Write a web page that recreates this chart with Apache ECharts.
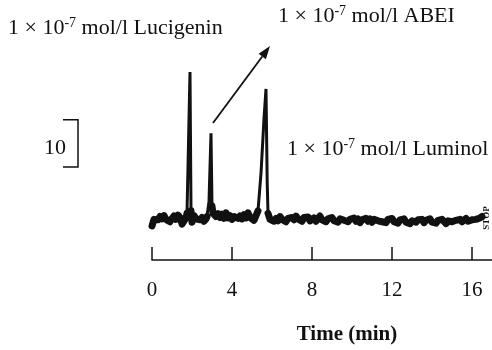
<!DOCTYPE html>
<html>
<head>
<meta charset="utf-8">
<script src="https://cdn.jsdelivr.net/npm/echarts@6/dist/echarts.min.js"></script>
<style>
  html, body { margin: 0; padding: 0; background: #fff; }
  #chart { width: 492px; height: 350px; }
</style>
</head>
<body>
<div id="chart"></div>
<script>
// recorder trace, time in min, signal in arbitrary units
var times = [
  0, 0.1, 0.2, 0.3, 0.4, 0.5, 0.6, 0.7, 0.8, 0.9,
  1.0, 1.1, 1.2, 1.3, 1.4, 1.5, 1.6, 1.7, 1.75, 1.9, 1.95, 2.0,
  2.1, 2.2, 2.3, 2.4, 2.5, 2.6, 2.7, 2.75, 2.85, 2.95, 3.0, 3.05,
  3.1, 3.2, 3.3, 3.4, 3.5, 3.6, 3.7, 3.8, 3.9,
  4.0, 4.1, 4.2, 4.3, 4.4, 4.5, 4.6, 4.7, 4.8, 4.9,
  5.0, 5.1, 5.2, 5.3, 5.45, 5.6, 5.7, 5.76, 5.8, 5.9,
  6.0, 6.1, 6.2, 6.3, 6.4, 6.5, 6.6, 6.7, 6.8, 6.9,
  7.0, 7.1, 7.2, 7.3, 7.4, 7.5, 7.6, 7.7, 7.8, 7.9,
  8.0, 8.1, 8.2, 8.3, 8.4, 8.5, 8.6, 8.7, 8.8, 8.9,
  9.0, 9.1, 9.2, 9.3, 9.4, 9.5, 9.6, 9.7, 9.8, 9.9,
  10.0, 10.1, 10.2, 10.3, 10.4, 10.5, 10.6, 10.7, 10.8, 10.9,
  11.0, 11.1, 11.2, 11.3, 11.4, 11.5, 11.6, 11.7, 11.8, 11.9,
  12.0, 12.1, 12.2, 12.3, 12.4, 12.5, 12.6, 12.7, 12.8, 12.9,
  13.0, 13.1, 13.2, 13.3, 13.4, 13.5, 13.6, 13.7, 13.8, 13.9,
  14.0, 14.1, 14.2, 14.3, 14.4, 14.5, 14.6, 14.7, 14.8, 14.9,
  15.0, 15.1, 15.2, 15.3, 15.4, 15.5, 15.6, 15.7, 15.8, 15.9,
  16.0, 16.1, 16.2, 16.3, 16.4, 16.5
];
var signal = [
  -1.2, 0.2, 0.6, 0.1, 0.8, 0.3, 1.0, 0.2, 0.5, -0.3,
  0.4, 0.9, 0.2, 1.1, 0.6, -0.8, -1.2, 0.5, 1.5, 31.4, 2.0, -0.4,
  1.0, 0.3, 0.7, 0.1, 0.6, -0.2, 0.3, 0.8, 4.0, 18.4, 3.0, 1.5,
  1.5, 0.8, 1.4, 0.6, 1.3, 0.4, 1.6, 0.5, 1.0,
  0.2, 0.8, 1.2, 0.4, 0.9, 0.3, 1.2, 0.5, 1.6, 0.6,
  0.9, 0.0, 0.3, 2.0, 10, 21.5, 27.8, 8, 1.5, 0.2,
  0.6, -0.2, 0.4, -0.1, 0.8, 0.2, 0.5, -0.3, 0.4, 0.0,
  0.6, 0.1, 0.9, 0.3, 0.5, -0.2, 0.6, 0.2, 0.7, -0.1,
  0.3, 0.5, -0.2, 0.4, 0.9, 0.1, 0.5, -0.3, 0.3, 0.0,
  0.6, -0.1, 0.2, -0.4, 0.3, 0.7, 0.0, 0.4, -0.3, 0.2,
  -0.1, 0.5, -0.2, 0.3, -0.5, 0.1, -0.3, 0.4, -0.2, 0.3,
  -0.4, 0.2, 0.6, -0.1, 0.3, -0.3, 0.1, -0.5, 0.2, -0.2,
  0.4, -0.3, 0.0, -0.6, 0.1, -0.2, 0.3, -0.4, 0.0, -0.7,
  -0.1, 0.2, -0.4, 0.1, -0.3, 0.2, -0.5, 0.0, -0.2, 0.3,
  -0.4, -0.1, -0.6, 0.0, -0.3, 0.2, -0.2, -0.7, -0.1, 0.3,
  -0.3, -0.6, 0.0, -0.4, 0.2, -0.3, -0.1, 0.4, -0.2, -0.5,
  0.1, -0.3, 0.2, -0.1, 0.5, 0.8
];
var xTicks = [0, 4, 8, 12, 16];
var scaleBar = [11.3, 21.3];   // the "10" bracket, in signal units

var serif = 'Liberation Serif';
var chart = echarts.init(document.getElementById('chart'));

var trace = times.map(function (t, i) { return [t, signal[i]]; });
// thick noisy baseline, the peaks are drawn with a thinner pen on top
var baseline = times.map(function (t, i) { return [t, signal[i] > 3 ? null : signal[i]]; });

chart.setOption({
  animation: false,
  backgroundColor: '#fff',
  grid: { left: 152, right: 0, top: 71, bottom: 79 },
  xAxis: {
    type: 'value',
    min: 0,
    max: 17,
    interval: 4,
    axisLine: { onZero: false, lineStyle: { color: '#111', width: 1.5 } },
    axisTick: { inside: true, length: 13, customValues: xTicks, lineStyle: { color: '#111', width: 1.5 } },
    axisLabel: { customValues: xTicks, margin: 20, color: '#111', fontSize: 21, fontFamily: serif },
    splitLine: { show: false },
    name: 'Time (min)',
    nameLocation: 'middle',
    nameGap: 64,
    nameTextStyle: { color: '#111', fontSize: 21, fontWeight: 'bold', fontFamily: serif, padding: [0, 0, 0, 50] }
  },
  yAxis: {
    type: 'value',
    min: -8.4,
    max: 31.6,
    show: false
  },
  series: [
    {
      type: 'line',
      data: baseline,
      showSymbol: false,
      connectNulls: false,
      lineStyle: { color: '#111', width: 7, join: 'round', cap: 'round' }
    },
    {
      type: 'line',
      data: trace,
      showSymbol: false,
      lineStyle: { color: '#111', width: 3 }
    }
  ]
});

function label(x, y, text) {
  return {
    type: 'text', x: x, y: y,
    style: {
      text: text, fill: '#111', fontSize: 22, fontFamily: serif, lineHeight: 24,
      align: 'left', verticalAlign: 'middle',
      rich: {
        s: { fill: '#111', fontSize: 14, fontFamily: serif, lineHeight: 14, verticalAlign: 'top' }
      }
    }
  };
}

var y1 = chart.convertToPixel({ gridIndex: 0 }, [0, scaleBar[1]])[1];
var y2 = chart.convertToPixel({ gridIndex: 0 }, [0, scaleBar[0]])[1];

// arrow pointing to the ABEI label
var a0 = [213, 123], a1 = [270, 46];
var dx = a1[0] - a0[0], dy = a1[1] - a0[1], len = Math.sqrt(dx * dx + dy * dy);
var ux = dx / len, uy = dy / len, head = 13, half = 4.5;
var bx = a1[0] - ux * head, by = a1[1] - uy * head;

chart.setOption({
  graphic: [
    label(8, 28, '1 × 10{s|-7} mol/l Lucigenin'),
    label(278, 16, '1 × 10{s|-7} mol/l ABEI'),
    label(287, 149, '1 × 10{s|-7} mol/l Luminol'),
    {
      type: 'text', x: 55, y: 148,
      style: { text: '10', fill: '#111', fontSize: 22, fontFamily: serif, align: 'center', verticalAlign: 'middle' }
    },
    {
      type: 'polyline',
      shape: { points: [[63, y1], [78, y1], [78, y2], [63, y2]] },
      style: { stroke: '#111', lineWidth: 1.5, fill: null }
    },
    {
      type: 'line',
      shape: { x1: a0[0], y1: a0[1], x2: bx, y2: by },
      style: { stroke: '#111', lineWidth: 1.8 }
    },
    {
      type: 'polygon',
      shape: { points: [a1, [bx + uy * half, by - ux * half], [bx - uy * half, by + ux * half]] },
      style: { fill: '#111' }
    },
    {
      type: 'text', x: 487, y: 218, rotation: Math.PI / 2,
      style: { text: 'STOP', fill: '#111', fontSize: 9, fontWeight: 'bold', fontFamily: serif, align: 'center', verticalAlign: 'middle' }
    }
  ]
});
</script>
</body>
</html>
